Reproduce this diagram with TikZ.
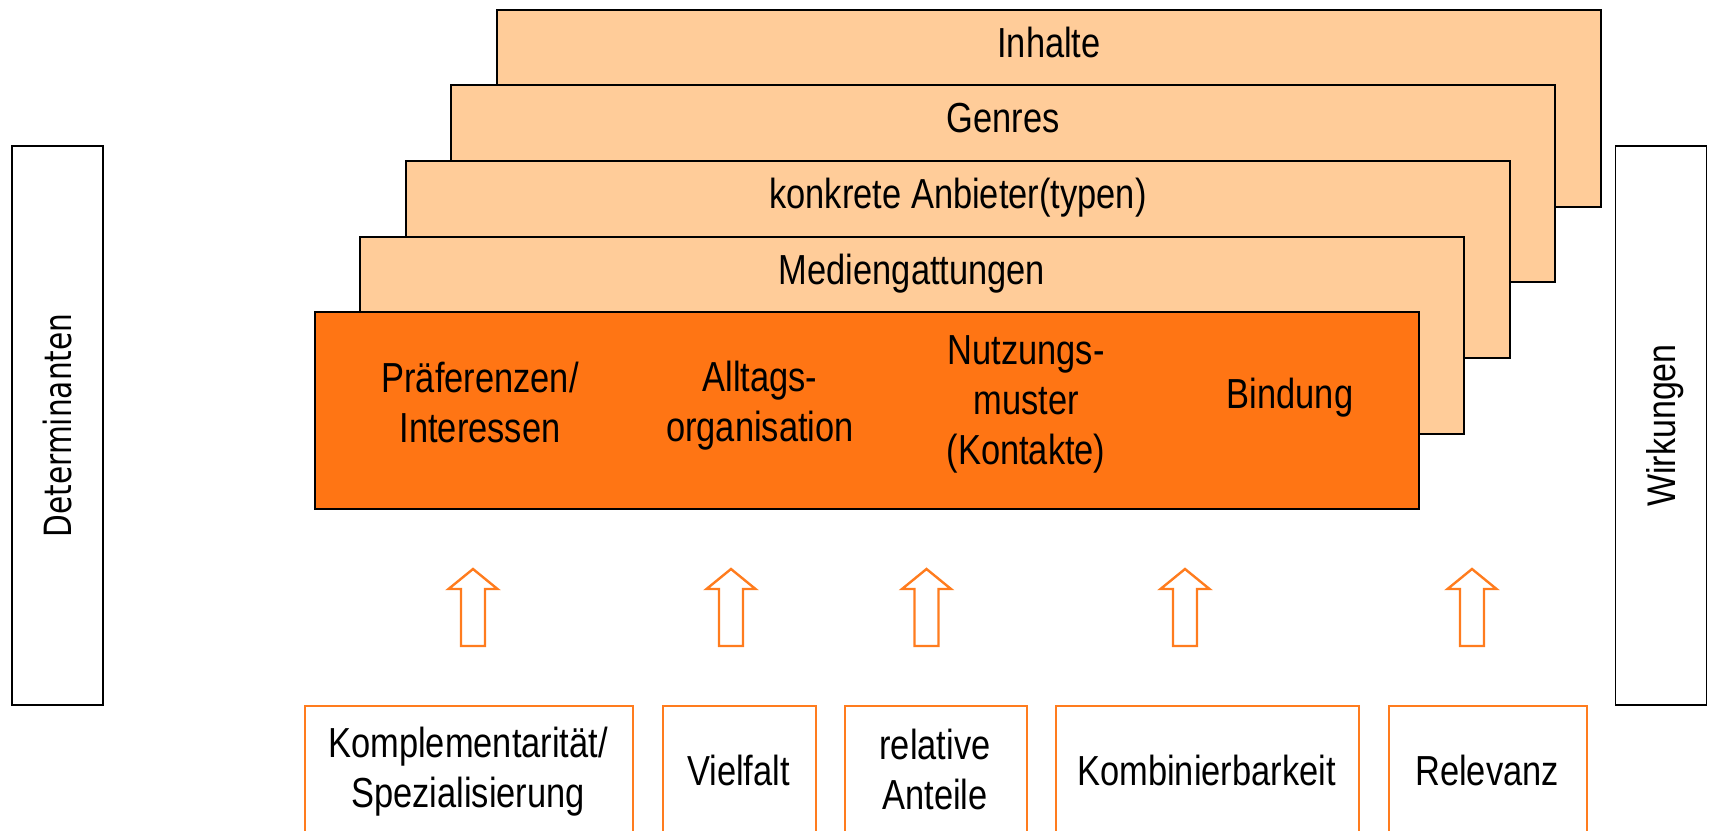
\documentclass[tikz,border=0pt]{standalone}
\usepackage{fontspec}
\setmainfont[FakeStretch=0.82]{Liberation Sans}
\newfontfamily\wirkfont[FakeStretch=0.85]{Liberation Sans}
\newfontfamily\detfont[FakeStretch=0.79]{DejaVu Sans}
\definecolor{lightorange}{HTML}{FFCC99}
\definecolor{darkorange}{HTML}{FF7514}
\definecolor{lineorange}{HTML}{FF7C1E}
\begin{document}
\begin{tikzpicture}[x=1pt,y=-1pt,
  layerbox/.style={draw=black, line width=1.6pt, fill=lightorange, minimum width=1104pt,
    minimum height=197pt, anchor=north west, inner sep=0pt, outer sep=0pt},
  mainbox/.style={layerbox, fill=darkorange},
  txt/.style={font=\fontsize{42}{50}\selectfont, inner sep=0pt, align=center, text=black},
  striptxt/.style={txt, anchor=base},
  sidebox/.style={draw=black, line width=1.6pt, fill=white, minimum width=559pt,
    minimum height=91pt, rotate=90, inner sep=0pt, text depth=0pt},
  botbox/.style={draw=lineorange, line width=2pt, fill=white, minimum height=150pt,
    anchor=north west, inner sep=0pt},
  uparrow/.pic={\draw[lineorange, line width=2.4pt, fill=white, line join=miter]
    (-12,77) -- (-12,20) -- (-24.5,20) -- (0,0) -- (24.5,20) -- (12,20) -- (12,77) -- cycle;}
]
\useasboundingbox (0,0) rectangle (1731,830);

% stacked layers
\node[layerbox] (inh) at (497,10) {};
\node[layerbox] (gen) at (451,85) {};
\node[layerbox] (anb) at (406,161) {};
\node[layerbox] (med) at (360,237) {};
\node[mainbox] (main) at (315,312) {};

\node[striptxt] (tinh) at (1049,57.5) {Inhalte};
\node[striptxt] (tgen) at (1003,132.5) {Genres};
\node[striptxt] (tanb) at (958,208.5) {konkrete Anbieter(typen)};
\node[striptxt] (tmed) at (912,284.5) {Mediengattungen};

\node[txt] (praef) at (480,402) {Präferenzen/\\Interessen};
\node[txt] (alltag) at (760,406) {Alltags-\\organisation};
\node[txt] (nutz) at (1026,404) {Nutzungs-\\muster\\(Kontakte)};
\node[striptxt] (bind) at (1290,408) {Bindung};

% side boxes
\node[sidebox, font=\detfont\fontsize{37.5}{40}\selectfont] (det) at (57.5,425.5) {Determinanten};
\node[sidebox, font=\wirkfont\fontsize{40}{44}\selectfont] (wirk) at (1661,425.5) {Wirkungen};

% block arrows
\pic at (473,569) {uparrow};
\pic at (731,569) {uparrow};
\pic at (926.5,569) {uparrow};
\pic at (1185,569) {uparrow};
\pic at (1472,569) {uparrow};

% bottom boxes
\begin{scope}
\clip (0,0) rectangle (1731,830);
\node[botbox, minimum width=328pt] (b1) at (304,705) {};
\node[botbox, minimum width=153pt] (b2) at (662,705) {};
\node[botbox, minimum width=182pt] (b3) at (844,705) {};
\node[botbox, minimum width=303pt] (b4) at (1055,705) {};
\node[botbox, minimum width=198pt] (b5) at (1388,705) {};
\end{scope}

\node[txt] (tb1) at (468,772) {Komplementarität/\\Spezialisierung};
\node[striptxt] (tb2) at (738.5,785) {Vielfalt};
\node[txt] (tb3) at (935,769.5) {relative\\Anteile};
\node[striptxt] (tb4) at (1206.5,785) {Kombinierbarkeit};
\node[striptxt] (tb5) at (1487,785) {Relevanz};
\end{tikzpicture}
\end{document}
